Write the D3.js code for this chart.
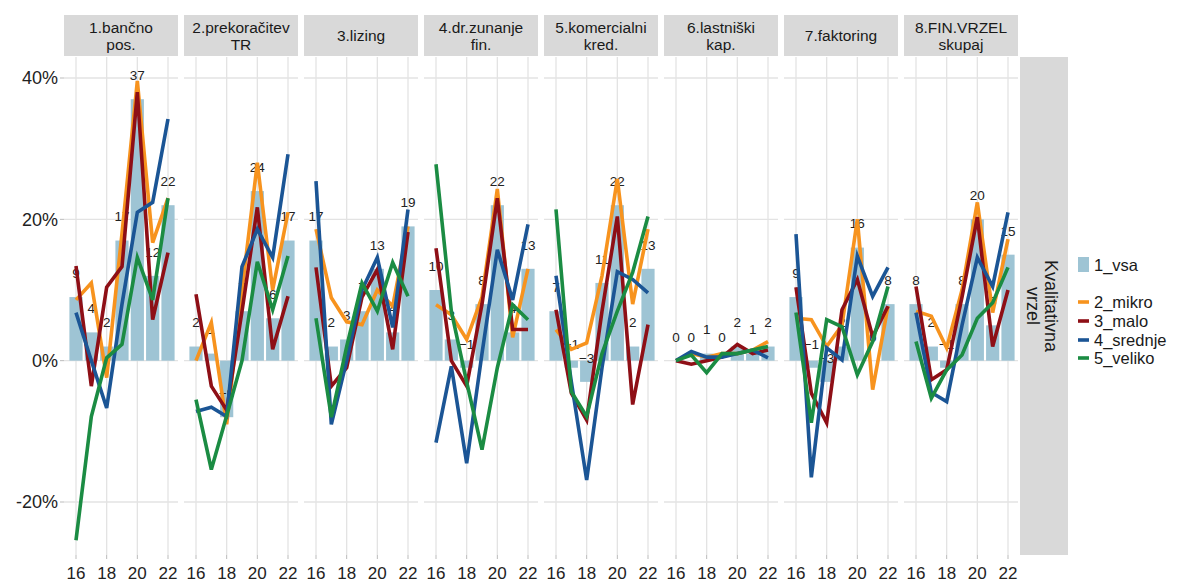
<!DOCTYPE html>
<html>
<head>
<meta charset="utf-8">
<script src="https://cdn.jsdelivr.net/npm/d3@7"></script>
<style>
  html, body { margin: 0; padding: 0; background: #fff; }
  svg { display: block; font-family: "Liberation Sans", Arial, sans-serif; }
</style>
</head>
<body>
<svg id="chart" width="1187" height="583"></svg>
<script>
// Years on the x axis (two-digit)
const years = [16, 17, 18, 19, 20, 21, 22];
const xTicks = [16, 18, 20, 22];
const yTicks = [-20, 0, 20, 40];

// Facet titles (one entry per line)
const panelTitles = [
  ["1.bančno", "pos."],
  ["2.prekoračitev", "TR"],
  ["3.lizing"],
  ["4.dr.zunanje", "fin."],
  ["5.komercialni", "kred."],
  ["6.lastniški", "kap."],
  ["7.faktoring"],
  ["8.FIN.VRZEL", "skupaj"]
];

// 1_vsa (bars), in %
const vsa = [
  [9, 4, 2, 17, 37, 12, 22],
  [2, 1, -8, 7, 24, 6, 17],
  [17, 2, 3, 7, 13, 4, 19],
  [10, 3, -1, 8, 22, 4, 13],
  [7, -1, -3, 11, 22, 2, 13],
  [0, 0, 1, 0, 2, 1, 2],
  [9, -1, -3, 2, 16, 0, 8],
  [8, 2, -1, 8, 20, 5, 15]
];

// 2_mikro
const mikro = [
  [8.6, 11, -2.4, 18, 39.6, 16.7, 23],
  [0, 5.4, -9, 10, 28, 10, 21],
  [18.6, 8.9, 5.5, 5.1, 10, 7.7, 19],
  [7.9, 6.5, 3, 9, 24.3, 3.3, 13],
  [4.4, 1.6, 2.5, 12, 25.7, 8, 18.6],
  [0, 1, 0.5, 1, 1, 1.5, 2.7],
  [6, 5.8, 2, 5, 20, -4.1, 7.7],
  [7, 6.3, 1.8, 10, 22.4, 6.8, 17.2]
];

// 3_malo
const malo = [
  [13.4, -3.6, 10.4, 13.3, 38, 5.8, 15.3],
  [9.4, -3.6, -7, 7, 21.7, 1.6, 9.1],
  [13.2, -3.6, -1, 9, 12.9, 1.6, 18.2],
  [15.9, 0, -3.6, 8, 23, 4.4, 4.4],
  [7.2, -4.6, -8.4, 7, 20.4, -6.2, 5.1],
  [0, -0.5, 0, 0.5, 2.3, 1, 1.5],
  [10.4, -4.6, -8.8, 7.2, 11.5, 3.4, 7.7],
  [10.5, -2.7, -1.3, 9, 20.3, 2, 10]
];

// 4_srednje
const srednje = [
  [6.8, 0, -6.7, 8, 21, 22.4, 34.2],
  [-7.2, -6.6, -7.9, 13.3, 18.6, 14.6, 29.2],
  [25.4, -9, 0, 10, 14.6, 4.7, 21.4],
  [-11.6, -0.8, -14.5, 1, 15.7, 8.6, 19.3],
  [12, -3, -16.9, -1, 12.6, 11.5, 9.6],
  [0, 1.3, 0.5, 0.5, 1, 1.5, 0.4],
  [17.9, -16.5, 1.8, 0.1, 14.8, 9.1, 13.2],
  [6.8, -4.5, -5.8, 5, 14.6, 10.5, 21]
];

// 5_veliko
const veliko = [
  [-25.4, -7.9, 0.4, 2.3, 14.6, 8.6, 23],
  [-5.5, -15.4, -7.8, 0, 14, 7.2, 14.8],
  [6, -8, 2, 11, 7, 13.9, 9.1],
  [27.8, 7, -3, -12.6, -1, 7.9, 5.8],
  [21.4, -4.4, -7.9, 1, 7, 12.5, 20.4],
  [0, 0.8, -1.7, 1, 1, 1.5, 2],
  [6.8, -8.8, 5.8, 4.8, -2, 2.7, 10.5],
  [2.7, -5.3, -1.3, 0.8, 6, 8.2, 13.2]
];

const lineSeries = [
  { name: "2_mikro", values: mikro, color: "#F7931E" },
  { name: "3_malo", values: malo, color: "#8E0F16" },
  { name: "4_srednje", values: srednje, color: "#1B5595" },
  { name: "5_veliko", values: veliko, color: "#1B8C43" }
];
const barColor = "#9EC4D4";
const gridColor = "#E3E3E3";
const stripColor = "#D9D9D9";

const svg = d3.select("#chart");

// Layout
const panelLeft = 64, panelW = 114, panelGap = 6;
const stripTop = 15, stripBottom = 56;
const plotTop = 57, plotBottom = 555;

const y = d3.scaleLinear().domain([-20, 40]).range([502, 78]);

// y axis labels and ticks
const yAxis = svg.append("g");
yTicks.forEach(t => {
  yAxis.append("line")
    .attr("x1", panelLeft - 4).attr("x2", panelLeft)
    .attr("y1", y(t)).attr("y2", y(t))
    .attr("stroke", "#bbb").attr("stroke-width", 1);
  yAxis.append("text")
    .attr("x", panelLeft - 6).attr("y", y(t))
    .attr("dy", "0.36em")
    .attr("text-anchor", "end")
    .attr("font-size", 18)
    .attr("fill", "#222")
    .text(t + "%");
});

panelTitles.forEach((title, i) => {
  const x0 = panelLeft + i * (panelW + panelGap);
  const x = d3.scaleLinear().domain([16, 22]).range([x0 + 12, x0 + 104]);
  const step = x(17) - x(16);
  const barW = step * 0.86;
  const g = svg.append("g");

  // strip
  g.append("rect")
    .attr("x", x0).attr("y", stripTop)
    .attr("width", panelW).attr("height", stripBottom - stripTop)
    .attr("fill", stripColor);
  const st = g.append("text")
    .attr("x", x0 + panelW / 2)
    .attr("text-anchor", "middle")
    .attr("font-size", 15.5)
    .attr("fill", "#1a1a1a");
  const cy = (stripTop + stripBottom) / 2;
  const lh = 17;
  title.forEach((line, k) => {
    st.append("tspan")
      .attr("x", x0 + panelW / 2)
      .attr("y", cy + (k - (title.length - 1) / 2) * lh)
      .attr("dy", "0.36em")
      .text(line);
  });

  // grid
  yTicks.forEach(t => {
    g.append("line")
      .attr("x1", x0).attr("x2", x0 + panelW)
      .attr("y1", y(t)).attr("y2", y(t))
      .attr("stroke", gridColor).attr("stroke-width", 1.3);
  });
  xTicks.forEach(t => {
    g.append("line")
      .attr("x1", x(t)).attr("x2", x(t))
      .attr("y1", plotTop).attr("y2", plotBottom)
      .attr("stroke", gridColor).attr("stroke-width", 1.3);
  });

  // bars (1_vsa)
  g.selectAll("rect.bar")
    .data(years.map((yr, j) => ({ yr, v: vsa[i][j] })))
    .join("rect")
    .attr("class", "bar")
    .attr("x", d => x(d.yr) - barW / 2)
    .attr("width", barW)
    .attr("y", d => y(Math.max(0, d.v)))
    .attr("height", d => Math.abs(y(d.v) - y(0)))
    .attr("fill", barColor);

  // value labels for 1_vsa
  g.selectAll("text.lbl")
    .data(years.map((yr, j) => ({ yr, v: vsa[i][j] })))
    .join("text")
    .attr("class", "lbl")
    .attr("x", d => x(d.yr))
    .attr("y", d => y(d.v + 3.4))
    .attr("dy", "0.36em")
    .attr("text-anchor", "middle")
    .attr("font-size", 13.5)
    .attr("fill", "#222")
    .text(d => d3.format("d")(d.v));

  // lines per company size
  const line = d3.line().x(d => x(d.yr)).y(d => y(d.v));
  lineSeries.forEach(s => {
    g.append("path")
      .datum(years.map((yr, j) => ({ yr, v: s.values[i][j] })))
      .attr("d", line)
      .attr("fill", "none")
      .attr("stroke", s.color)
      .attr("stroke-width", 3.6)
      .attr("stroke-linejoin", "miter")
      .attr("stroke-linecap", "butt");
  });

  // x axis ticks and labels
  xTicks.forEach(t => {
    g.append("line")
      .attr("x1", x(t)).attr("x2", x(t))
      .attr("y1", plotBottom).attr("y2", plotBottom + 4)
      .attr("stroke", "#bbb");
    g.append("text")
      .attr("x", x(t)).attr("y", 573)
      .attr("dy", "0.36em")
      .attr("text-anchor", "middle")
      .attr("font-size", 17)
      .attr("fill", "#222")
      .text(t);
  });
});

// right-side row strip
const rsX = 1020, rsW = 48;
svg.append("rect")
  .attr("x", rsX).attr("y", plotTop)
  .attr("width", rsW).attr("height", plotBottom - plotTop)
  .attr("fill", stripColor);
const rcy = (plotTop + plotBottom) / 2;
const rt = svg.append("text")
  .attr("transform", `translate(${rsX + rsW / 2 - 2},${rcy}) rotate(90)`)
  .attr("text-anchor", "middle")
  .attr("font-size", 18)
  .attr("fill", "#1a1a1a");
["Kvalitativna", "vrzel"].forEach((line, k) => {
  rt.append("tspan")
    .attr("x", 0)
    .attr("y", (k - 0.5) * 18)
    .attr("dy", "0.36em")
    .text(line);
});

// legend
const lg = svg.append("g");
lg.append("rect")
  .attr("x", 1078).attr("y", 257)
  .attr("width", 11).attr("height", 15)
  .attr("fill", barColor);
lg.append("text")
  .attr("x", 1094).attr("y", 265)
  .attr("dy", "0.36em")
  .attr("font-size", 16.5)
  .attr("fill", "#1a1a1a")
  .text("1_vsa");
const legY = [302, 321, 340, 358];
lineSeries.forEach((s, k) => {
  lg.append("line")
    .attr("x1", 1078).attr("x2", 1089)
    .attr("y1", legY[k]).attr("y2", legY[k])
    .attr("stroke", s.color).attr("stroke-width", 3.6);
  lg.append("text")
    .attr("x", 1094).attr("y", legY[k])
    .attr("dy", "0.36em")
    .attr("font-size", 16.5)
    .attr("fill", "#1a1a1a")
    .text(s.name);
});
</script>
</body>
</html>
